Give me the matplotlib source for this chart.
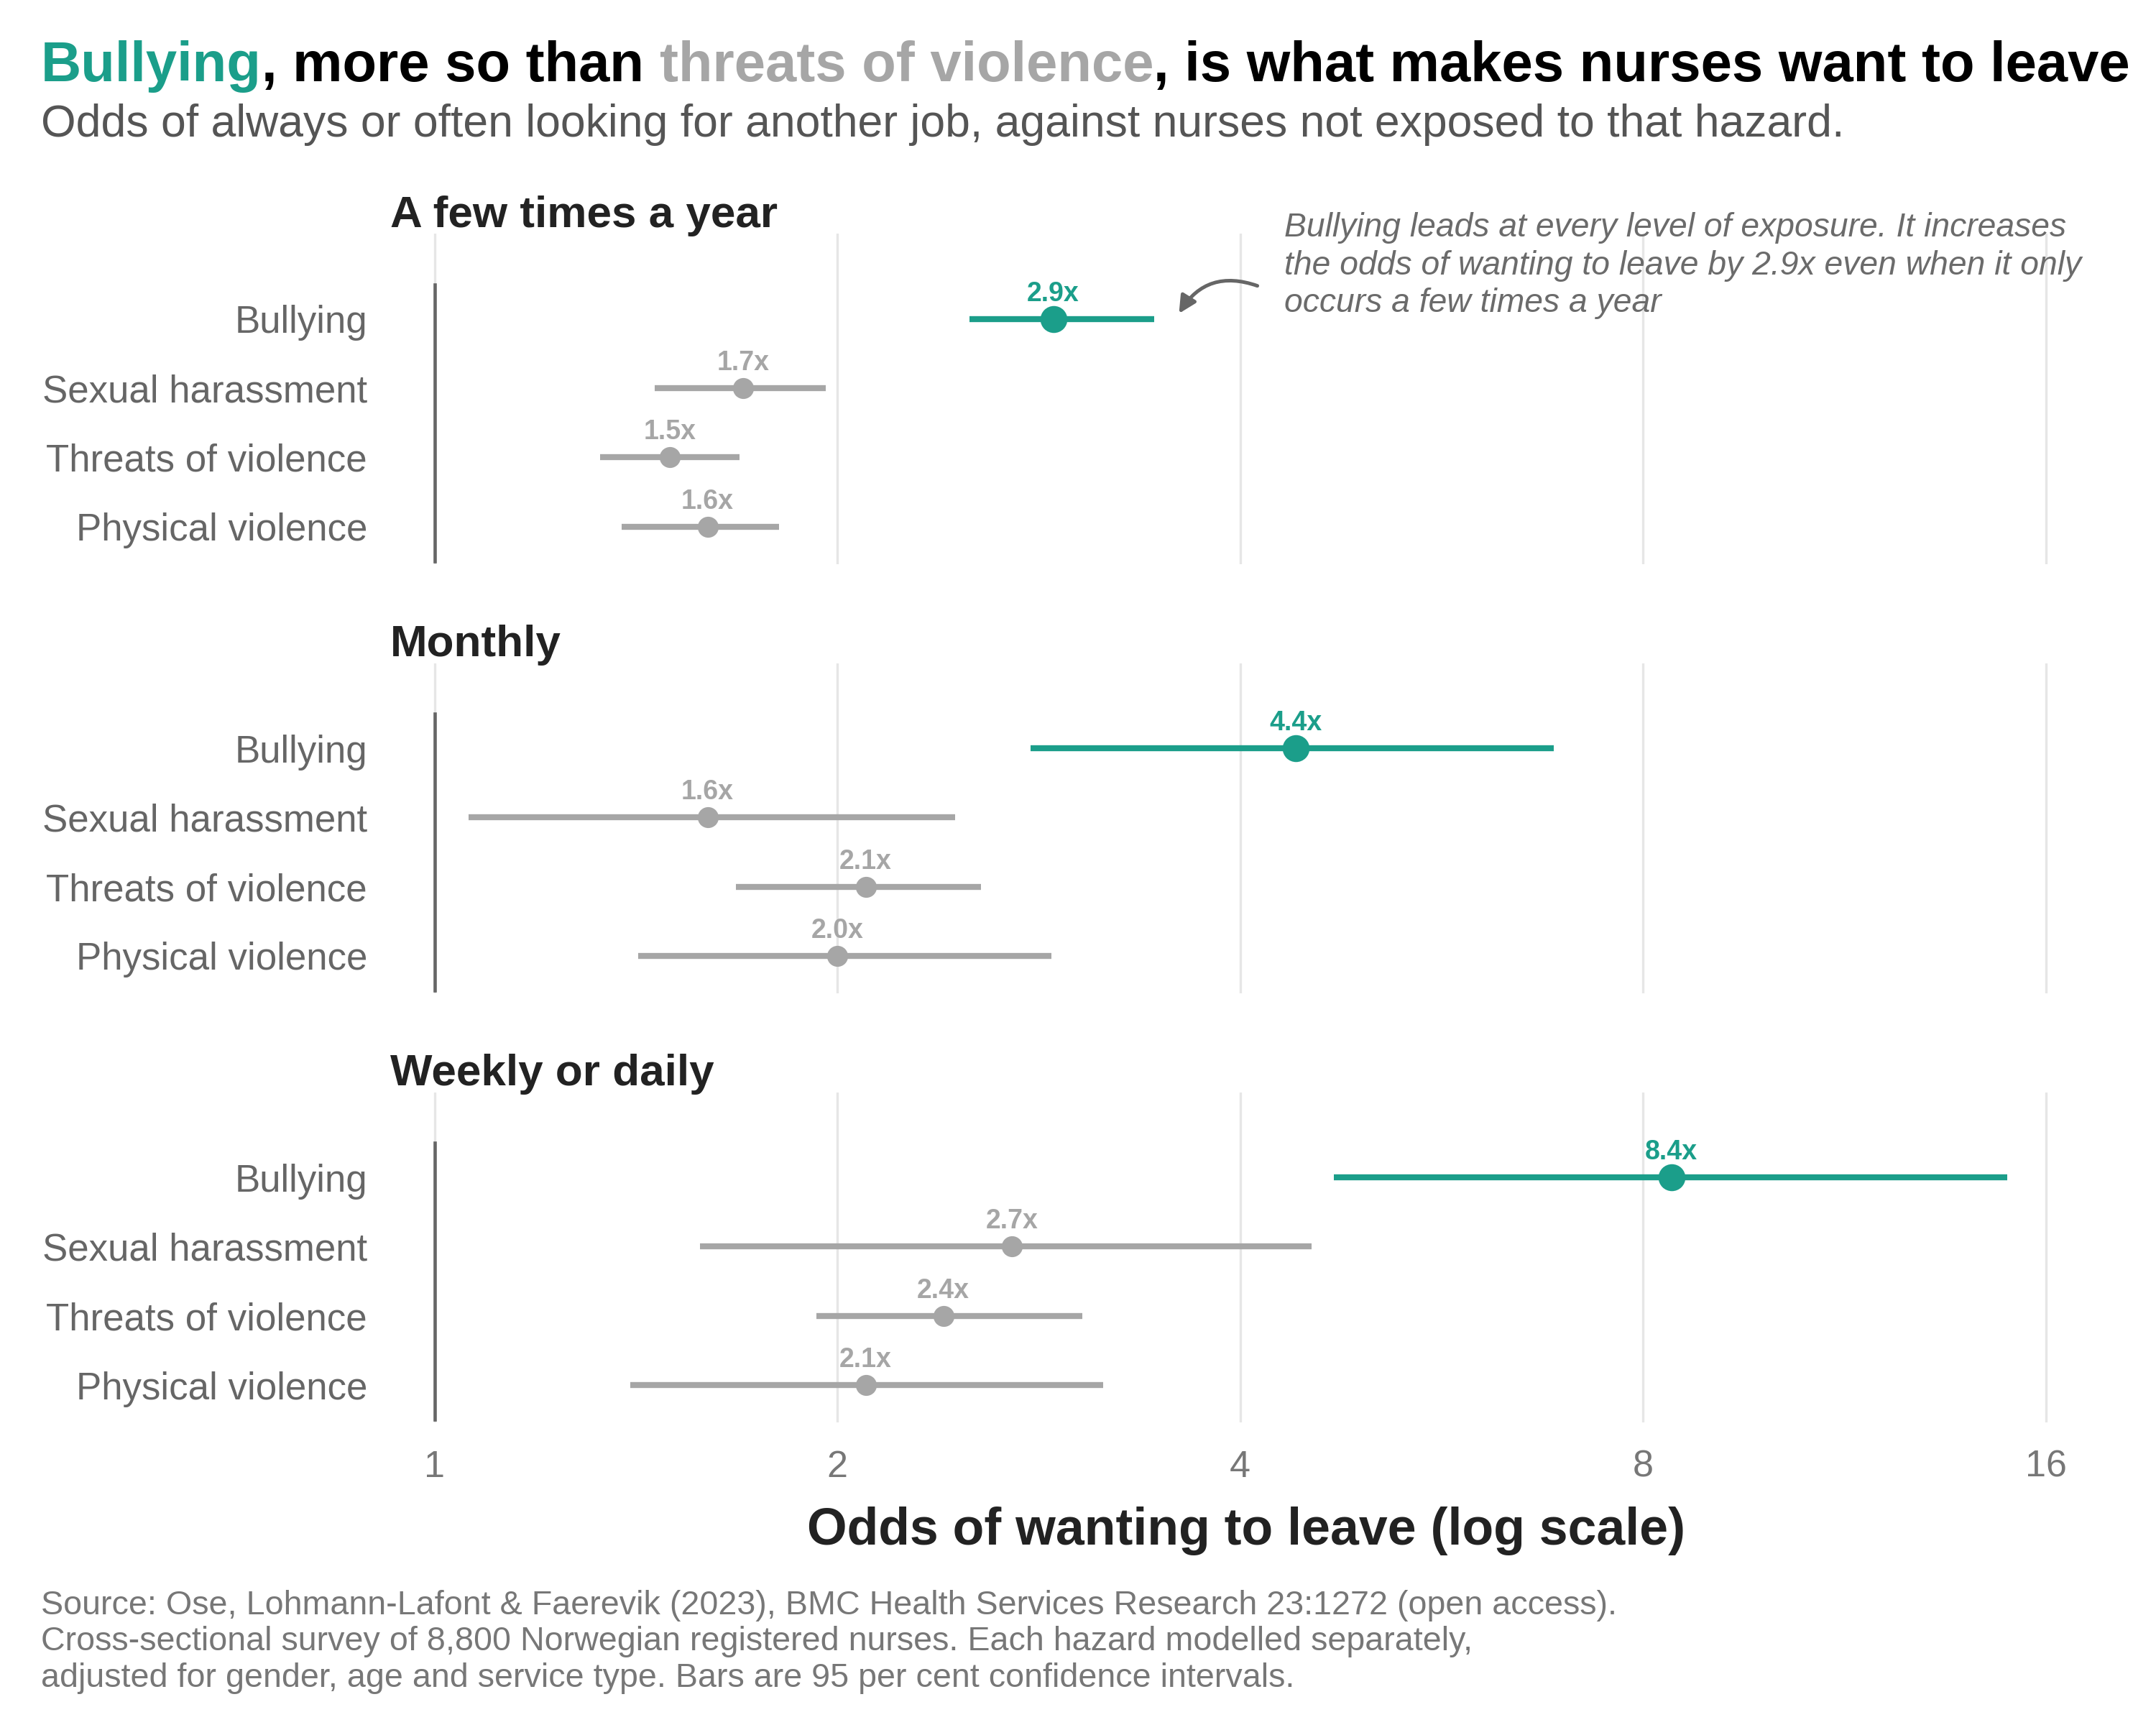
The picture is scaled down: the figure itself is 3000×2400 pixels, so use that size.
import matplotlib.pyplot as plt

plt.rcParams['font.family'] = ['Liberation Sans', 'DejaVu Sans']

# data
frequencies = ["A few times a year", "Monthly", "Weekly or daily"]
hazards = ["Bullying", "Sexual harassment", "Threats of violence", "Physical violence"]
odds = [[2.9, 1.7, 1.5, 1.6],
        [4.4, 1.6, 2.1, 2.0],
        [8.4, 2.7, 2.4, 2.1]]
ci_low = [[2.51, 1.46, 1.33, 1.38],
          [2.79, 1.06, 1.68, 1.42],
          [4.70, 1.58, 1.93, 1.40]]
ci_high = [[3.45, 1.96, 1.69, 1.81],
           [6.86, 2.45, 2.56, 2.89],
           [14.97, 4.52, 3.05, 3.16]]
xticks = [1, 2, 4, 8, 16]

teal = "#1b9e8a"
grey = "#a6a6a6"

fig = plt.figure(figsize=(10, 8), dpi=300, facecolor="white")

bottoms = [0.673, 0.4242, 0.1754]
axes = []
for k, freq in enumerate(frequencies):
    ax = fig.add_axes([0.1731, bottoms[k], 0.8, 0.1914])
    ax.set_xscale("log", base=2)
    ax.set_xlim(0.9, 17.5)
    ax.set_ylim(3.54, -1.23)
    for s in ax.spines.values():
        s.set_visible(False)
    ax.set_xticks(xticks)
    ax.set_xticklabels([str(t) for t in xticks])
    ax.xaxis.set_minor_locator(plt.NullLocator())
    ax.grid(axis="x", color="#e6e6e6", lw=0.8)
    ax.set_axisbelow(True)
    ax.tick_params(axis="x", length=0, pad=9, labelsize=12.5, labelcolor="#777777")
    if k < 2:
        ax.tick_params(axis="x", labelbottom=False)
    ax.set_yticks(range(len(hazards)))
    ax.set_yticklabels(hazards)
    ax.tick_params(axis="y", length=0, pad=2, labelsize=12.7, labelcolor="#666666")

    # reference line at odds = 1
    ax.plot([1, 1], [-0.5, 3.5], color="#666666", lw=1.1, zorder=2)

    for i, h in enumerate(hazards):
        c = teal if i == 0 else grey
        ms = 9 if i == 0 else 7
        ax.plot([ci_low[k][i], ci_high[k][i]], [i, i], color=c, lw=2.0,
                solid_capstyle="butt", zorder=3)
        ax.plot(odds[k][i], i, "o", color=c, ms=ms, mec="none", zorder=4)
        ax.annotate(f"{odds[k][i]:.1f}x", (odds[k][i], i), xytext=(0, 6),
                    textcoords="offset points", ha="center", va="baseline",
                    fontsize=9, fontweight="bold", color=c)

    ax.text(0.181, bottoms[k] + 0.1914 + 0.004, freq, transform=fig.transFigure,
            fontsize=14.9, fontweight="bold", color="#222222", va="baseline")
    axes.append(ax)

# annotation in the first panel
axes[0].annotate("", xy=(3.6, -0.08), xytext=(4.12, -0.48),
                 arrowprops=dict(arrowstyle="-|>", color="#666666", lw=1.2,
                                 connectionstyle="arc3,rad=0.4",
                                 shrinkA=0, shrinkB=0, mutation_scale=12))
fig.text(0.5957, 0.877,
         "Bullying leads at every level of exposure. It increases\n"
         "the odds of wanting to leave by 2.9x even when it only\n"
         "occurs a few times a year",
         fontsize=11.1, style="italic", color="#6b6b6b", va="top", linespacing=1.25)

fig.text(0.578, 0.1124, "Odds of wanting to leave (log scale)", ha="center",
         va="center", fontsize=17.2, fontweight="bold", color="#222222")

# title with coloured words: each piece offset by the measured width of the text before it
tx, ty = 0.019, 0.953
tkw = dict(fontsize=18.7, fontweight="bold", va="baseline")
pieces = [("Bullying", teal), (", more so than", "black"),
          ("threats of violence", grey), (", is what makes nurses want to leave", "black")]
renderer = fig.canvas.get_renderer()


def text_width(s):
    t = fig.text(0, 0, s, **tkw)
    w = t.get_window_extent(renderer=renderer).width / fig.bbox.width
    t.remove()
    return w


full = ""
for j, (s, c) in enumerate(pieces):
    full += (" " if j == 2 else "") + s
    x0 = tx + text_width(full) - text_width(s)
    fig.text(x0, ty, s, color=c, **tkw)

fig.text(tx, 0.921,
         "Odds of always or often looking for another job, against nurses not exposed to that hazard.",
         fontsize=15, color="#555555", va="baseline")

fig.text(tx, 0.0785,
         "Source: Ose, Lohmann-Lafont & Faerevik (2023), BMC Health Services Research 23:1272 (open access).\n"
         "Cross-sectional survey of 8,800 Norwegian registered nurses. Each hazard modelled separately,\n"
         "adjusted for gender, age and service type. Bars are 95 per cent confidence intervals.",
         fontsize=11.2, color="#777777", va="top", linespacing=1.2)

fig.savefig("out.png", dpi=300, facecolor="white")
